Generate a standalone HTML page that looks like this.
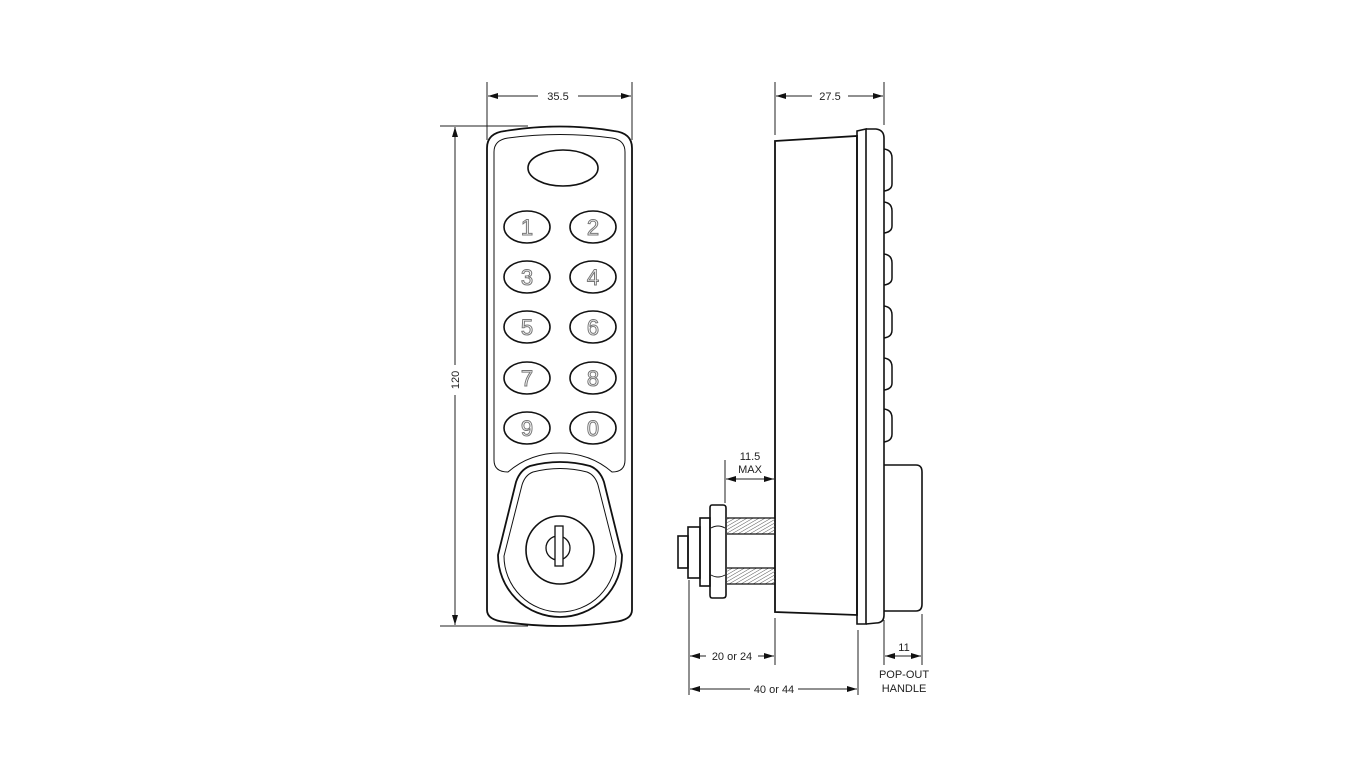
<!DOCTYPE html>
<html><head><meta charset="utf-8"><style>
html,body{margin:0;padding:0;background:#fff;}
svg{display:block;}
text{font-family:"Liberation Sans",Arial,sans-serif;font-size:11px;fill:#222;}
.k{font-size:22px;fill:#fff;stroke:#777;stroke-width:1;text-anchor:middle;}
</style></head><body>
<svg width="1366" height="768" viewBox="0 0 1366 768" xmlns="http://www.w3.org/2000/svg">
<defs>
<marker id="a" viewBox="0 0 10 6" refX="10" refY="3" markerWidth="10" markerHeight="6" orient="auto-start-reverse" markerUnits="userSpaceOnUse"><path d="M0,0 L10,3 L0,6 Z" fill="#111"/></marker>
<pattern id="th" width="3" height="3" patternUnits="userSpaceOnUse" patternTransform="rotate(60)"><line x1="0" y1="0" x2="0" y2="3" stroke="#555" stroke-width="1"/></pattern>
</defs>
<g fill="none" stroke="#111" stroke-width="1.3">
<path d="M487,148 Q487,133 505,131 Q560,122 614,131 Q632,133 632,148 L632,610 Q632,620 614,622 Q560,630 505,622 Q487,620 487,610 Z" stroke-width="1.8"/>
<path d="M494,152 Q494,140 508,138 Q560,131 612,138 Q625,140 625,152 L625,460 Q625,472 612,472 Q590,453 560,453 Q530,453 508,472 Q494,472 494,460 Z" stroke-width="1"/>
<ellipse cx="563" cy="168" rx="35" ry="18" stroke-width="1.6"/>
<g stroke-width="1.6">
<ellipse cx="527" cy="227" rx="23" ry="16"/><ellipse cx="593" cy="227" rx="23" ry="16"/>
<ellipse cx="527" cy="277" rx="23" ry="16"/><ellipse cx="593" cy="277" rx="23" ry="16"/>
<ellipse cx="527" cy="327" rx="23" ry="16"/><ellipse cx="593" cy="327" rx="23" ry="16"/>
<ellipse cx="527" cy="378" rx="23" ry="16"/><ellipse cx="593" cy="378" rx="23" ry="16"/>
<ellipse cx="527" cy="428" rx="23" ry="16"/><ellipse cx="593" cy="428" rx="23" ry="16"/>
</g>
<path d="M530,466 Q560,458 590,466 Q600,470 604,482 L622,555 A62,62 0 1 1 498,555 L516,482 Q520,470 530,466 Z" stroke-width="1.8"/>
<path d="M533,472 Q560,465 587,472 Q595,475 598,485 L616,556 A56,56 0 1 1 504,556 L522,485 Q525,475 533,472 Z" stroke-width="1"/>
<circle cx="560" cy="550" r="34" stroke-width="1.6"/>
<circle cx="558" cy="548" r="12"/>
<rect x="555" y="526" width="8" height="40" fill="#fff"/>
<path d="M775,141 L857,136 L857,615 L775,612 Z" stroke-width="1.8"/>
<path d="M857,131 L866,129 L866,624 L857,624 Z" stroke-width="1.6"/>
<path d="M866,129 L876,129 Q884,130 884,138 L884,615 Q884,623 876,623 L866,624" stroke-width="1.6"/>
<g stroke-width="1.5">
<path d="M884,149 Q892,150 892,158 L892,184 Q892,190 884,191"/>
<path d="M884,202 Q892,203 892,211 L892,226 Q892,232 884,233"/>
<path d="M884,254 Q892,255 892,263 L892,278 Q892,284 884,285"/>
<path d="M884,306 Q892,307 892,315 L892,330 Q892,337 884,338"/>
<path d="M884,358 Q892,359 892,367 L892,383 Q892,389 884,390"/>
<path d="M884,409 Q892,410 892,418 L892,434 Q892,441 884,442"/>
</g>
<path d="M884,465 L916,465 Q922,465 922,472 L922,604 Q922,611 916,611 L884,611" stroke-width="1.6"/>
<rect x="727" y="518" width="48" height="16" fill="url(#th)" stroke="none"/>
<rect x="727" y="568" width="48" height="16" fill="url(#th)" stroke="none"/>
<line x1="727" y1="518" x2="775" y2="518"/><line x1="727" y1="534" x2="775" y2="534"/>
<line x1="727" y1="568" x2="775" y2="568"/><line x1="727" y1="584" x2="775" y2="584"/>
<path d="M712,505 L723,505 Q726,505 726,508 L726,595 Q726,598 723,598 L712,598 Q710,598 710,595 L710,508 Q710,505 712,505 Z" stroke-width="1.6"/>
<path d="M711,528 Q718,524 725,528 M711,575 Q718,579 725,575" stroke-width="1"/>
<rect x="700" y="518" width="10" height="68" stroke-width="1.6"/>
<rect x="688" y="527" width="12" height="51" stroke-width="1.6"/>
<rect x="678" y="536" width="10" height="32" stroke-width="1.6"/>
</g>
<g stroke="#222" stroke-width="1">
<line x1="487" y1="82" x2="487" y2="140"/><line x1="632" y1="82" x2="632" y2="140"/>
<line x1="488" y1="96" x2="538" y2="96" marker-start="url(#a)"/><line x1="578" y1="96" x2="631" y2="96" marker-end="url(#a)"/>
<line x1="440" y1="126" x2="528" y2="126"/><line x1="440" y1="626" x2="528" y2="626"/>
<line x1="455" y1="127" x2="455" y2="365" marker-start="url(#a)"/><line x1="455" y1="395" x2="455" y2="625" marker-end="url(#a)"/>
<line x1="775" y1="82" x2="775" y2="135"/><line x1="884" y1="82" x2="884" y2="125"/>
<line x1="776" y1="96" x2="812" y2="96" marker-start="url(#a)"/><line x1="848" y1="96" x2="883" y2="96" marker-end="url(#a)"/>
<line x1="725" y1="460" x2="725" y2="503"/>
<line x1="726" y1="479" x2="774" y2="479" marker-start="url(#a)" marker-end="url(#a)"/>
<line x1="689" y1="580" x2="689" y2="695"/><line x1="775" y1="618" x2="775" y2="665"/><line x1="858" y1="630" x2="858" y2="695"/>
<line x1="690" y1="656" x2="706" y2="656" marker-start="url(#a)"/><line x1="758" y1="656" x2="774" y2="656" marker-end="url(#a)"/>
<line x1="690" y1="689" x2="750" y2="689" marker-start="url(#a)"/><line x1="798" y1="689" x2="857" y2="689" marker-end="url(#a)"/>
<line x1="884" y1="620" x2="884" y2="665"/><line x1="922" y1="614" x2="922" y2="665"/>
<line x1="885" y1="656" x2="921" y2="656" marker-start="url(#a)" marker-end="url(#a)"/>
</g>
<text x="558" y="100" text-anchor="middle">35.5</text>
<text x="830" y="100" text-anchor="middle">27.5</text>
<text transform="translate(459,380) rotate(-90)" text-anchor="middle">120</text>
<text x="750" y="460" text-anchor="middle">11.5</text>
<text x="750" y="473" text-anchor="middle">MAX</text>
<text x="732" y="660" text-anchor="middle">20 or 24</text>
<text x="774" y="693" text-anchor="middle">40 or 44</text>
<text x="904" y="651" text-anchor="middle">11</text>
<text x="904" y="678" text-anchor="middle">POP-OUT</text>
<text x="904" y="692" text-anchor="middle">HANDLE</text>
<g class="k">
<text class="k" x="527" y="235">1</text><text class="k" x="593" y="235">2</text>
<text class="k" x="527" y="285">3</text><text class="k" x="593" y="285">4</text>
<text class="k" x="527" y="335">5</text><text class="k" x="593" y="335">6</text>
<text class="k" x="527" y="386">7</text><text class="k" x="593" y="386">8</text>
<text class="k" x="527" y="436">9</text><text class="k" x="593" y="436">0</text>
</g>
</svg>
</body></html>
